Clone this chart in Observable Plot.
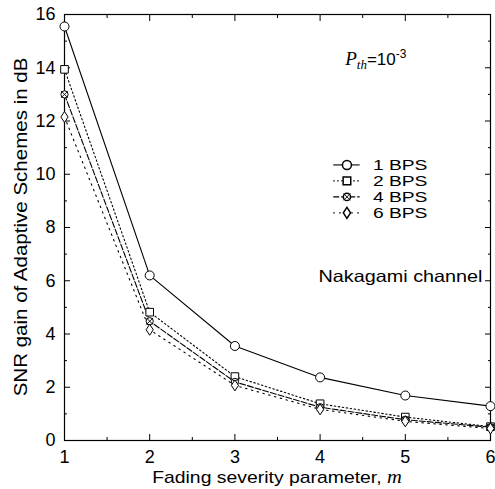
<!DOCTYPE html>
<html><head><meta charset="utf-8">
<script src="https://cdn.jsdelivr.net/npm/d3@7"></script>
<script src="https://cdn.jsdelivr.net/npm/@observablehq/plot@0.6"></script>
<style>
body{margin:0;background:#fff}
svg{font-family:"Liberation Sans",Arial,Helvetica,sans-serif}
</style>
</head><body><div id="chart"></div>
<script>
// ---- data ----
const mValues = [1, 2, 3, 4, 5, 6];
const bps1 = [15.55, 6.2, 3.55, 2.37, 1.69, 1.29];
const bps2 = [13.94, 4.82, 2.4, 1.38, 0.88, 0.52];
const bps4 = [13.0, 4.48, 2.2, 1.25, 0.78, 0.5];
const bps6 = [12.15, 4.16, 2.07, 1.17, 0.72, 0.45];
const seriesNames = ["1 BPS", "2 BPS", "4 BPS", "6 BPS"];
const xMajorTicks = [1, 2, 3, 4, 5, 6];
const xMinorTicks = [1.5, 2.5, 3.5, 4.5, 5.5];
const yMajorTicks = [0, 2, 4, 6, 8, 10, 12, 14, 16];
const yMinorTicks = [1, 3, 5, 7, 9, 11, 13, 15];
const yLabel = "SNR gain of Adaptive Schemes in dB";
const xLabel = "Fading severity parameter, ";
const channelNote = "Nakagami channel";

// ---- styles ----
const dashes = [null, "1.5,2.5", "6,2", "1.5,4.5"];
const diamondTall = {draw(ctx) { ctx.moveTo(0, -5.5); ctx.lineTo(3.6, 0); ctx.lineTo(0, 5.5); ctx.lineTo(-3.6, 0); ctx.closePath(); }};
const symbols = ["circle", "square", "circle", diamondTall];
const radii = [4.5, 4.3, 3.6, 4.5];

const allSeries = [bps1, bps2, bps4, bps6];
const rows = [];
allSeries.forEach((vals, s) => vals.forEach((v, i) => rows.push({series: s, m: mValues[i], v})));

// legend positions (data units)
const legend = seriesNames.map((name, i) => ({i, name, y: 10.35 - i * 0.6}));

const marks = [];
for (let s = 0; s < 4; s++) {
  const d = rows.filter(r => r.series === s);
  marks.push(Plot.line(d, {x: "m", y: "v", stroke: "black", strokeWidth: 1.1, strokeDasharray: dashes[s]}));
}
for (let s = 0; s < 4; s++) {
  const d = rows.filter(r => r.series === s);
  marks.push(Plot.dot(d, {x: "m", y: "v", symbol: () => symbols[s], r: radii[s], stroke: "black", fill: "white", strokeWidth: 1}));
  if (s === 2) marks.push(Plot.dot(d, {x: "m", y: "v", symbol: "times", r: 3.2, stroke: "black", strokeWidth: 0.9}));
}
// legend
legend.forEach(L => {
  marks.push(Plot.ruleY([L], {y: "y", x1: 4.16, x2: 4.47, stroke: "black", strokeWidth: 1.1, strokeDasharray: dashes[L.i]}));
  marks.push(Plot.dot([L], {x: 4.315, y: "y", symbol: () => symbols[L.i], r: radii[L.i], stroke: "black", fill: "white"}));
  if (L.i === 2) marks.push(Plot.dot([L], {x: 4.315, y: "y", symbol: "times", r: 3.2, stroke: "black", strokeWidth: 0.9}));
  marks.push(Plot.text([L], {x: 4.62, y: "y", text: "name", textAnchor: "start", fontSize: 15, fill: "black", className: "wide"}));
});
marks.push(Plot.text([channelNote], {x: 6, y: 6.17, text: d => d, textAnchor: "end", dx: -8, fontSize: 16.5, fill: "black", className: "wide"}));

const axisFont = 18;
const chart = Plot.plot({
  width: 495, height: 489,
  marginLeft: 64, marginRight: 5, marginTop: 14, marginBottom: 49,
  x: {domain: [1, 6]},
  y: {domain: [0, 16]},
  style: {fontSize: axisFont + "px", fontFamily: '"Liberation Sans",Arial,sans-serif', color: "black", background: "white"},
  marks: [
    Plot.axisX({ticks: xMajorTicks, tickSize: -6, tickPadding: 16, tickFormat: d => d, label: null, fontSize: axisFont}),
    Plot.axisX({ticks: xMinorTicks, tickSize: -3, tickFormat: () => "", label: null}),
    Plot.axisX({anchor: "top", ticks: xMajorTicks, tickSize: -6, tickFormat: () => "", label: null}),
    Plot.axisX({anchor: "top", ticks: xMinorTicks, tickSize: -3, tickFormat: () => "", label: null}),
    Plot.axisY({ticks: yMajorTicks, tickSize: -6, tickPadding: 15, tickFormat: d => d, label: null, fontSize: axisFont}),
    Plot.axisY({ticks: yMinorTicks, tickSize: -3, tickFormat: () => "", label: null}),
    Plot.axisY({anchor: "right", ticks: yMajorTicks, tickSize: -6, tickFormat: () => "", label: null}),
    Plot.axisY({anchor: "right", ticks: yMinorTicks, tickSize: -3, tickFormat: () => "", label: null}),
    Plot.frame({stroke: "black", strokeWidth: 1.2}),
    ...marks
  ]
});
document.getElementById("chart").appendChild(chart);

// widen annotation texts to match the reference's broad lettering
d3.select(chart).selectAll("g.wide text").each(function () {
  const len = this.getComputedTextLength();
  this.setAttribute("textLength", len * (this.textContent.length < 8 ? 1.28 : 1.2));
  this.setAttribute("lengthAdjust", "spacingAndGlyphs");
});

// axis titles and annotation with rich text
const svg = d3.select(chart);
const sx = chart.scale("x"), sy = chart.scale("y");
const xt = svg.append("text").attr("x", (sx.apply(1) + sx.apply(6)) / 2).attr("y", 483)
  .attr("text-anchor", "middle").attr("font-size", 17).attr("fill", "black");
xt.append("tspan").text(xLabel);
xt.append("tspan").attr("font-family", '"Liberation Serif","DejaVu Serif",serif').attr("font-style", "italic").attr("font-size", 18).text("m");
xt.attr("textLength", xt.node().getComputedTextLength() * 1.14).attr("lengthAdjust", "spacingAndGlyphs");
const yt = svg.append("text").attr("transform", `translate(27,${(sy.apply(0) + sy.apply(16)) / 2}) rotate(-90)`)
  .attr("text-anchor", "middle").attr("font-size", 18).attr("fill", "black").text(yLabel);
yt.attr("textLength", yt.node().getComputedTextLength() * 1.14).attr("lengthAdjust", "spacingAndGlyphs");
const pt = svg.append("text").attr("x", sx.apply(4.66)).attr("y", sy.apply(14.1)).attr("font-size", 17).attr("fill", "black");
pt.append("tspan").attr("font-family", '"Liberation Serif",serif').attr("font-style", "italic").attr("font-size", 19).text("P");
pt.append("tspan").attr("font-family", '"Liberation Serif",serif').attr("font-style", "italic").attr("font-size", 13).attr("dy", 4).text("th");
pt.append("tspan").attr("dy", -4).text("=10");
pt.append("tspan").attr("dy", -7).attr("font-size", 12).text("-3");
</script>
</body></html>
